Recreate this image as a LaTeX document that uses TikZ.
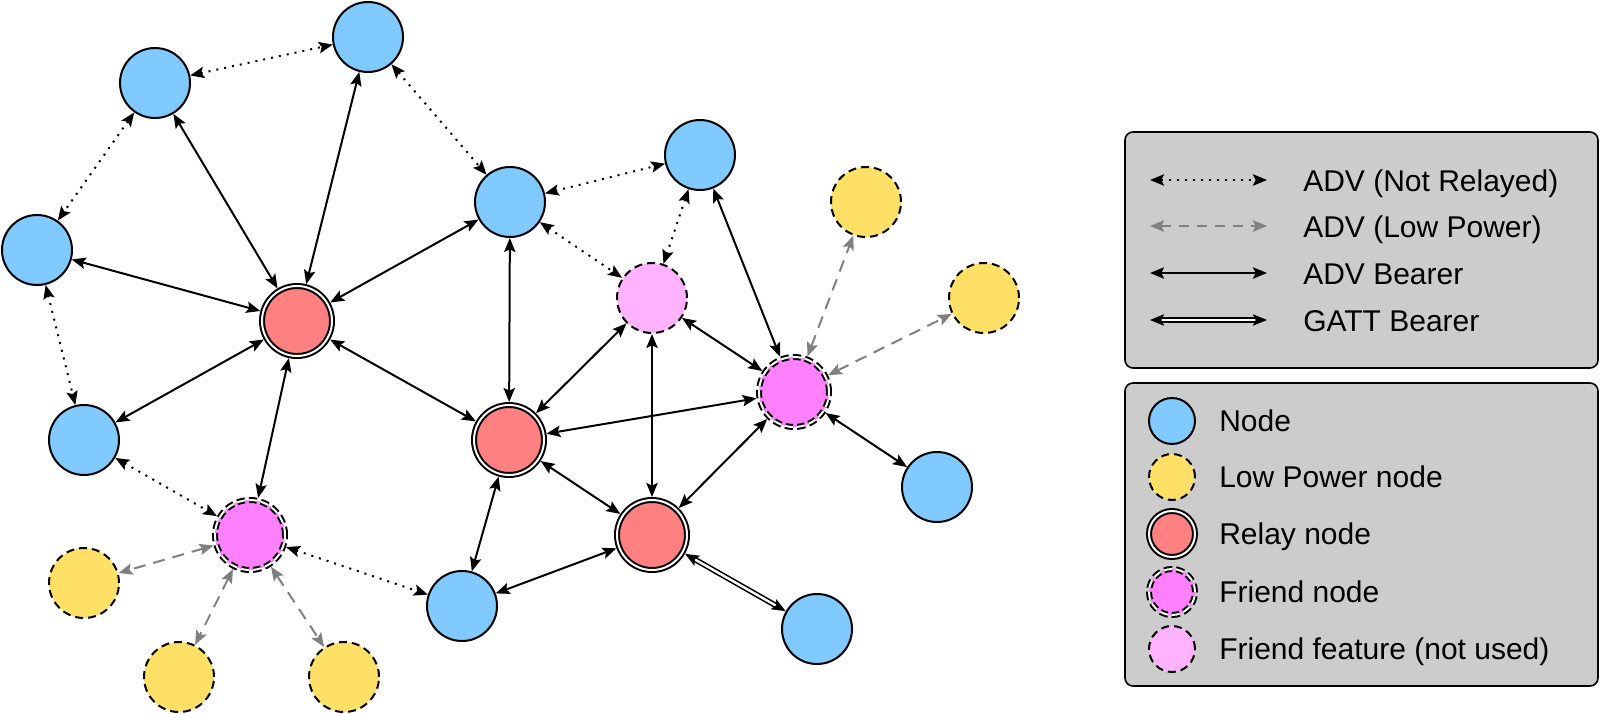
\documentclass[tikz,border=0pt]{standalone}
\usepackage{fontspec}
\setmainfont{Liberation Sans}
\usetikzlibrary{arrows.meta}
\definecolor{cblue}{HTML}{80CAFF}
\definecolor{cyel}{HTML}{FFE066}
\definecolor{cred}{HTML}{FF8080}
\definecolor{cmag}{HTML}{FF80FF}
\definecolor{cpink}{HTML}{FFB3FF}
\definecolor{cleg}{HTML}{CCCCCC}
\definecolor{cgray}{HTML}{808080}
\begin{document}
\begin{tikzpicture}[x=0.75pt,y=-0.75pt,
  base/.style={circle, draw=black, line width=1.5pt, inner sep=0pt, minimum size=52.5pt},
  nd/.style={base, fill=cblue},
  lp/.style={base, fill=cyel, dash pattern=on 6pt off 3.75pt},
  relay/.style={base, fill=cred, double=white, double distance=1.5pt, outer sep=2.25pt},
  friend/.style={relay, fill=cmag, dash pattern=on 6pt off 3pt},
  ffeat/.style={lp, fill=cpink},
  tipa/.style={{Stealth[length=10.5pt,width=8.5pt,inset=2pt]}-{Stealth[length=10.5pt,width=8.5pt,inset=2pt]}},
  ar/.style={tipa, line width=1.5pt, draw=black},
  dotar/.style={tipa, line width=1.5pt, draw=black, dash pattern=on 1.5pt off 4.5pt},
  lpar/.style={tipa, line width=1.5pt, draw=cgray, dash pattern=on 9pt off 6pt},
  gatt/.style={tipa, line width=1.2pt, draw=black, double=white, double distance=1.8pt},
  legbox/.style={draw=black, line width=1.2pt, fill=cleg, rounded corners=6pt},
  lbl/.style={font=\fontsize{22.5pt}{27pt}\selectfont, inner sep=0pt, anchor=base west},
  small/.style={minimum size=34.5pt}
]
\useasboundingbox (0,0) rectangle (1600,714);

% legend boxes
\draw[legbox] (1125,132) rectangle (1598,368);
\draw[legbox] (1125,383) rectangle (1598,686);

% nodes
\node[nd] (B1) at (155,83) {};
\node[nd] (B2) at (368,37) {};
\node[nd] (B3) at (37,250) {};
\node[nd] (B4) at (510,202) {};
\node[nd] (B5) at (700,155) {};
\node[nd] (B6) at (84,440) {};
\node[nd] (B7) at (937,487) {};
\node[nd] (B8) at (462,606) {};
\node[nd] (B9) at (817,629) {};
\node[lp] (Y1) at (866,202) {};
\node[lp] (Y2) at (984,298) {};
\node[lp] (Y3) at (84,583) {};
\node[lp] (Y4) at (179,677) {};
\node[lp] (Y5) at (344,677) {};
\node[relay] (R1) at (297,321) {};
\node[relay] (R2) at (509,440) {};
\node[relay] (R3) at (652,535) {};
\node[friend] (F1) at (250,535) {};
\node[friend] (F2) at (794,392) {};
\node[ffeat] (P1) at (652,298) {};

% dotted
\draw[dotar] (B1) -- (B2);
\draw[dotar] (B1) -- (B3);
\draw[dotar] (B2) -- (B4);
\draw[dotar] (B3) -- (B6);
\draw[dotar] (B4) -- (B5);
\draw[dotar] (B4) -- (P1);
\draw[dotar] (B5) -- (P1);
\draw[dotar] (B6) -- (F1);
\draw[dotar] (F1) -- (B8);

% solid
\draw[ar] (R1) -- (B1);
\draw[ar] (R1) -- (B2);
\draw[ar] (R1) -- (B3);
\draw[ar] (R1) -- (B4);
\draw[ar] (R1) -- (B6);
\draw[ar] (R1) -- (F1);
\draw[ar] (R1) -- (R2);
\draw[ar] (B4) -- (R2);
\draw[ar] (R2) -- (P1);
\draw[ar] (R2) -- (F2);
\draw[ar] (R2) -- (R3);
\draw[ar] (R2) -- (B8);
\draw[ar] (B8) -- (R3);
\draw[ar] (P1) -- (R3);
\draw[ar] (R3) -- (F2);
\draw[ar] (P1) -- (F2);
\draw[ar] (B5) -- (F2);
\draw[ar] (F2) -- (B7);

% gatt
\draw[gatt] (R3) -- (B9);

% low power
\draw[lpar] (F2) -- (Y1);
\draw[lpar] (F2) -- (Y2);
\draw[lpar] (F1) -- (Y3);
\draw[lpar] (F1) -- (Y4);
\draw[lpar] (F1) -- (Y5);

% legend 1
\coordinate (la1) at (1150,180); \coordinate (lb1) at (1267,180);
\coordinate (la2) at (1150,226); \coordinate (lb2) at (1267,226);
\coordinate (la3) at (1150,273); \coordinate (lb3) at (1267,273);
\coordinate (la4) at (1150,320); \coordinate (lb4) at (1267,320);
\draw[dotar] (la1) -- (lb1);
\draw[lpar, dash pattern=on 7.5pt off 6pt] (la2) -- (lb2);
\draw[ar] (la3) -- (lb3);
\draw[gatt] (la4) -- (lb4);
\node[lbl] (t1) at (1303,191) {ADV (Not Relayed)};
\node[lbl] (t2) at (1303,237) {ADV (Low Power)};
\node[lbl] (t3) at (1303,284) {ADV Bearer};
\node[lbl] (t4) at (1303,331) {GATT Bearer};

% legend 2
\node[nd, small] (k1) at (1172,421) {};
\node[lp, small] (k2) at (1172,477) {};
\node[relay, small] (k3) at (1172,534) {};
\node[friend, small] (k4) at (1172,592) {};
\node[ffeat, small] (k5) at (1172,649) {};
\node[lbl] (u1) at (1219,431) {Node};
\node[lbl] (u2) at (1219,487) {Low Power node};
\node[lbl] (u3) at (1219,544) {Relay node};
\node[lbl] (u4) at (1219,602) {Friend node};
\node[lbl] (u5) at (1219,659) {Friend feature (not used)};
\end{tikzpicture}
\end{document}
